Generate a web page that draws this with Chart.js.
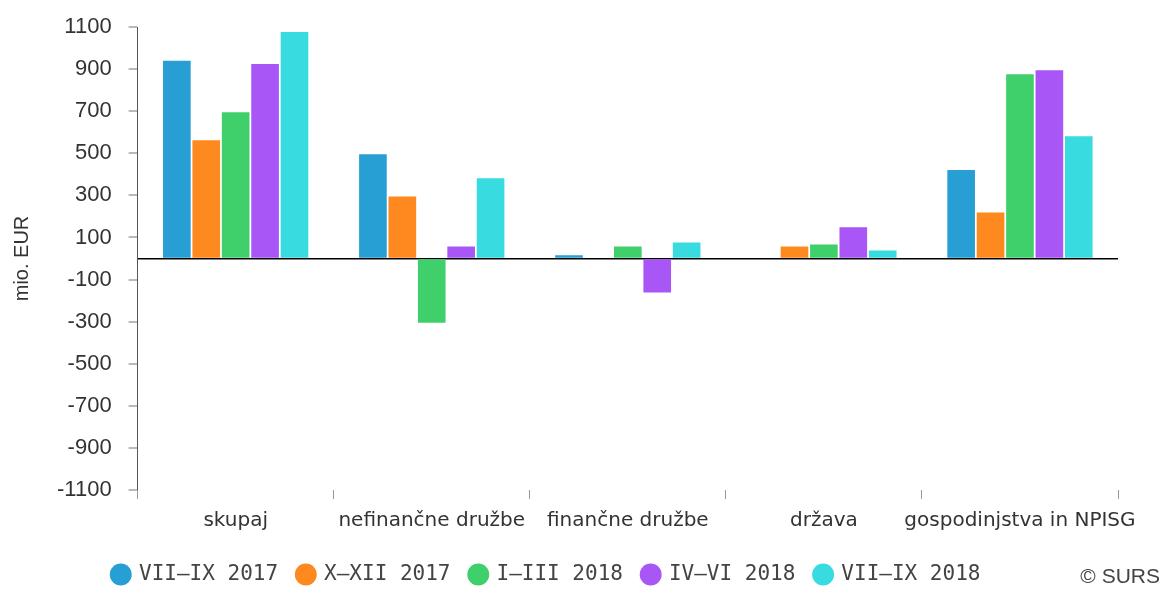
<!DOCTYPE html>
<html>
<head>
<meta charset="utf-8">
<script src="https://cdn.jsdelivr.net/npm/chart.js@4/dist/chart.umd.min.js"></script>
<style>
  html, body { margin: 0; padding: 0; background: #fff; }
  #wrap { position: relative; width: 1166px; height: 589px; }
  #credit { position: absolute; right: 6px; bottom: 1px; font: 21px "Liberation Sans", Arial, sans-serif; color: #444; }
</style>
</head>
<body>
<div id="wrap">
  <canvas id="chart" width="1166" height="589"></canvas>
  <div id="credit">© SURS</div>
</div>
<script>
const categories = ['skupaj', 'nefinančne družbe', 'finančne družbe', 'država', 'gospodinjstva in NPISG'];
const seriesNames = ['VII–IX 2017', 'X–XII 2017', 'I–III 2018', 'IV–VI 2018', 'VII–IX 2018'];
const q3_2017 = [940, 495, 15, 0, 420];
const q4_2017 = [562, 295, 0, 57, 219];
const q1_2018 = [695, -305, 57, 67, 876];
const q2_2018 = [924, 57, -162, 148, 895];
const q3_2018 = [1076, 381, 76, 38, 581];
const colors = ['#279fd5', '#fd891f', '#3fd06c', '#a956f6', '#37dbe0'];
const yTicks = [-1100, -900, -700, -500, -300, -100, 100, 300, 500, 700, 900, 1100];

const allSeries = [q3_2017, q4_2017, q1_2018, q2_2018, q3_2018];

// put the legend row where the original has it
const legendShift = {
  id: 'legendShift',
  afterLayout(chart) {
    const lg = chart.legend;
    if (!lg) return;
    const pad = lg.options.labels.padding;
    const dx = 113 - (lg.left + pad);
    lg.left += dx;
    lg.right += dx;
    const dy = 544 - lg.top;
    lg.top += dy;
    lg.bottom += dy;
  }
};

new Chart(document.getElementById('chart'), {
  type: 'bar',
  data: {
    labels: categories,
    datasets: allSeries.map((d, i) => ({
      label: seriesNames[i],
      data: d,
      backgroundColor: colors[i],
      borderWidth: 0,
      categoryPercentage: 0.75,
      barPercentage: 0.94
    }))
  },
  options: {
    responsive: false,
    animation: false,
    layout: { padding: { left: 0, right: 48, top: 7, bottom: 0 } },
    plugins: {
      legend: {
        position: 'bottom',
        align: 'start',
        maxHeight: 57,
        labels: {
          usePointStyle: true,
          pointStyle: 'circle',
          boxWidth: 15.5,
          boxHeight: 15.5,
          padding: 20,
          color: '#444',
          font: { family: 'DejaVu Sans Mono', size: 21 }
        }
      },
      tooltip: { enabled: false }
    },
    scales: {
      x: {
        afterFit: scale => { scale.height = 48; },
        grid: {
          offset: true,
          drawOnChartArea: false,
          drawTicks: true,
          tickLength: 9,
          tickColor: '#999',
          tickWidth: 1
        },
        border: { display: false },
        ticks: {
          color: '#333',
          padding: 10,
          maxRotation: 0,
          minRotation: 0,
          autoSkip: false,
          font: { family: 'DejaVu Sans', size: 20 }
        }
      },
      y: {
        min: -1100,
        max: 1100,
        afterFit: scale => { scale.paddingTop = 27; scale.paddingBottom = 0; },
        afterBuildTicks: axis => { axis.ticks = yTicks.concat([0]).map(v => ({ value: v })); },
        grid: {
          color: ctx => (ctx.tick && ctx.tick.value === 0) ? '#000' : 'rgba(0,0,0,0)',
          lineWidth: ctx => (ctx.tick && ctx.tick.value === 0) ? 1.5 : 0,
          tickColor: ctx => (ctx.tick && ctx.tick.value === 0) ? 'rgba(0,0,0,0)' : '#777',
          tickWidth: 1,
          tickLength: 9
        },
        border: { display: true, color: '#555' },
        ticks: {
          color: '#333',
          padding: 17,
          font: { family: 'Liberation Sans', size: 22 },
          callback: v => v === 0 ? '' : v
        },
        title: {
          display: true,
          text: 'mio. EUR',
          color: '#333',
          padding: { top: 10, bottom: 6 },
          font: { family: 'Liberation Sans', size: 20 }
        }
      }
    }
  },
  plugins: [legendShift]
});
</script>
</body>
</html>
